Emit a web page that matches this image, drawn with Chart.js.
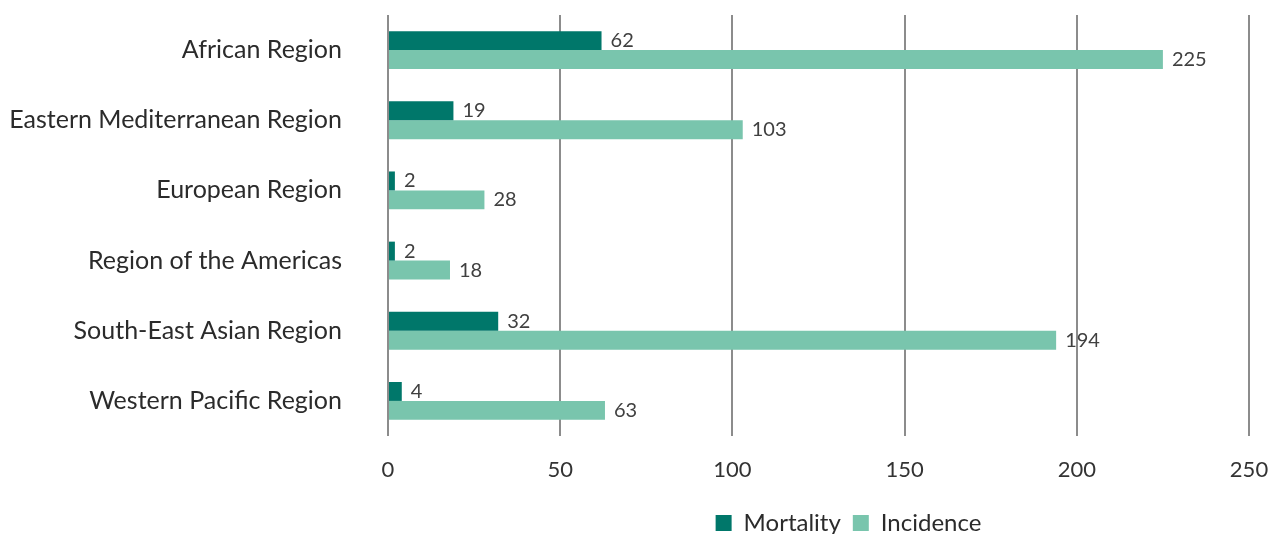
<!DOCTYPE html>
<html lang="en">
<head>
<meta charset="UTF-8">
<title>Mortality and Incidence by WHO Region</title>
<script src="https://cdn.jsdelivr.net/npm/chart.js"></script>
<style>
  html, body { margin: 0; padding: 0; background: #fff; }
  #wrap { width: 1272px; height: 534px; }
</style>
</head>
<body>
<div id="wrap"><canvas id="chart"></canvas></div>
<script>
// Regions and rates
const regions = [
  'African Region',
  'Eastern Mediterranean Region',
  'European Region',
  'Region of the Americas',
  'South-East Asian Region',
  'Western Pacific Region'
];
const mortality = [62, 19, 2, 2, 32, 4];
const incidence = [225, 103, 28, 18, 194, 63];
const xTicks = [0, 50, 100, 150, 200, 250];

const FONT = 'Lato, "Open Sans", sans-serif';
const PLOT_BOTTOM = 436;
const LEGEND_Y = 523;
const LEGEND_FONT = 24;
const LEGEND_PAD = 12;

// Value written just past the end of each bar
const barValues = {
  id: 'barValues',
  afterDatasetsDraw(chart) {
    const ctx = chart.ctx;
    ctx.save();
    ctx.font = '20px ' + FONT;
    ctx.fillStyle = '#404040';
    ctx.textAlign = 'left';
    ctx.textBaseline = 'middle';
    chart.data.datasets.forEach((ds, i) => {
      chart.getDatasetMeta(i).data.forEach((bar, j) => {
        ctx.fillText(String(ds.data[j]), bar.x + 9, bar.y);
      });
    });
    ctx.restore();
  }
};

// Move the legend under the plot, a little right of centre
const legendShift = {
  id: 'legendShift',
  afterLayout(chart) {
    const lg = chart.legend;
    const area = chart.chartArea;
    const dx = (area.left + area.right) / 2 + 30 - (lg.left + lg.right) / 2;
    lg.left += dx;
    lg.right += dx;
    const dy = LEGEND_Y - (lg.top + LEGEND_PAD + LEGEND_FONT / 2);
    lg.top += dy;
    lg.bottom += dy;
  }
};

new Chart(document.getElementById('chart'), {
  type: 'bar',
  data: {
    labels: regions,
    datasets: [
      { label: 'Mortality', data: mortality, backgroundColor: '#00776a' },
      { label: 'Incidence', data: incidence, backgroundColor: '#79c5ad' }
    ]
  },
  options: {
    indexAxis: 'y',
    responsive: true,
    maintainAspectRatio: false,
    animation: false,
    layout: { padding: { top: 15, right: 23, left: 0, bottom: 0 } },
    datasets: {
      bar: { categoryPercentage: 0.54, barPercentage: 1 }
    },
    scales: {
      x: {
        min: 0,
        max: 250,
        afterBuildTicks(scale) {
          scale.ticks = xTicks.map(v => ({ value: v }));
        },
        afterFit(scale) {
          scale.height = 534 - PLOT_BOTTOM - scale.chart.legend.height;
        },
        grid: { color: '#8c8c8c', lineWidth: 2, drawTicks: true, tickLength: 20, tickColor: 'rgba(0,0,0,0)' },
        border: { display: false },
        ticks: { color: '#333', font: { family: FONT, size: 22 }, padding: 1 }
      },
      y: {
        grid: { display: false, drawTicks: true, tickLength: 46 },
        border: { display: false },
        afterFit(scale) { scale.width = 388; },
        ticks: { color: '#2b2b2b', font: { family: FONT, size: 25 }, padding: 0 }
      }
    },
    plugins: {
      legend: {
        position: 'bottom',
        labels: {
          color: '#2b2b2b',
          font: { family: FONT, size: LEGEND_FONT },
          boxWidth: 16,
          boxHeight: 16,
          padding: LEGEND_PAD
        }
      },
      tooltip: { enabled: false }
    }
  },
  plugins: [barValues, legendShift]
});
</script>
</body>
</html>
